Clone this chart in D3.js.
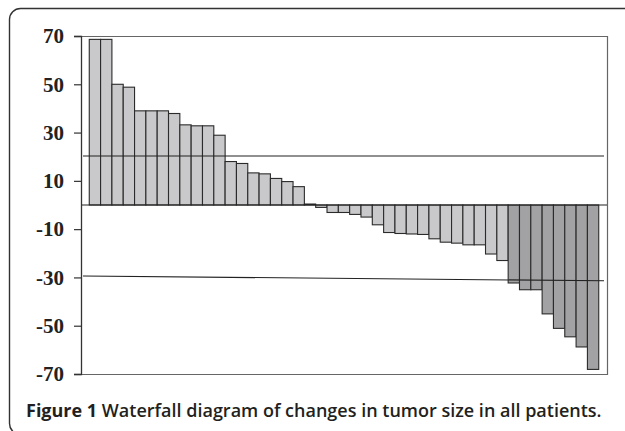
<!DOCTYPE html>
<html>
<head>
<meta charset="utf-8">
<script src="https://cdn.jsdelivr.net/npm/d3@7"></script>
<style>
  body { margin: 0; background: #fff; }
  svg { display: block; }
</style>
</head>
<body>
<div id="d3-container"></div>
<script>
/**
 * CONSTANTS AND DATA
 * */
const width = 625,
  height = 431,
  margin = { top: 36, bottom: 57, left: 81, right: 18 };

// percent change in tumor size per patient, sorted
const changes = [
  68.6, 68.6, 50, 48.8, 39, 39, 39, 37.9, 33.2, 32.8, 32.8, 28.9, 18, 17.2,
  13.3, 12.9, 11, 9.7, 7.6, 0.4, -1, -3.1, -3.1, -3.9, -5, -8.2, -11.4,
  -11.8, -12, -12.2, -14, -15.4, -15.8, -16.5, -16.5, -20.3, -23, -32.3,
  -35.1, -35.1, -45.1, -51.1, -54.6, -58.8, -68.1
];
const yTicks = [70, 50, 30, 10, -10, -30, -50, -70];
const upperLine = [20.3, 20.3];   // start / end value
const lowerLine = [-29.4, -31.4]; // start / end value
const responseCut = -30;
const caption = ["Figure 1", " Waterfall diagram of changes in tumor size in all patients."];

/**
 * DRAW
 * */
const svg = d3.select("#d3-container")
  .append("svg")
  .attr("width", width)
  .attr("height", height);

// outer frame (rounded, runs off the right/bottom)
svg.append("rect")
  .attr("x", 9.5)
  .attr("y", 8.5)
  .attr("width", 700)
  .attr("height", 426)
  .attr("rx", 11)
  .attr("fill", "none")
  .attr("stroke", "#333")
  .attr("stroke-width", 1.4);

const x0 = margin.left, x1 = width - margin.right;
const y0 = margin.top, y1 = height - margin.bottom;

const xScale = d3.scaleBand()
  .domain(d3.range(changes.length))
  .range([x0, x1])
  .paddingInner(0)
  .paddingOuter(0.73);

const yScale = d3.scaleLinear()
  .domain([-70, 70])
  .range([y1, y0]);

// plot box: top/right/bottom
svg.append("path")
  .attr("d", `M${x0},${y0 + 0.5}H${x1 + 0.5}V${y1 + 0.5}H${x0}`)
  .attr("fill", "none")
  .attr("stroke", "#666")
  .attr("stroke-width", 1.2);

// bars
svg.selectAll("rect.bar")
  .data(changes)
  .join("rect")
  .attr("class", "bar")
  .attr("x", (d, i) => xScale(i))
  .attr("width", xScale.bandwidth())
  .attr("y", d => yScale(Math.max(0, d)))
  .attr("height", d => Math.abs(yScale(d) - yScale(0)))
  .attr("fill", d => d <= responseCut ? "#a2a2a4" : "#c9c9cb")
  .attr("stroke", "#2b2b2b")
  .attr("stroke-width", 1.1);

// zero line
svg.append("line")
  .attr("x1", x0).attr("x2", x1)
  .attr("y1", yScale(0)).attr("y2", yScale(0))
  .attr("stroke", "#222")
  .attr("stroke-width", 1.2);

// reference lines
const refX = [x0 + 2, x1 - 3];
[upperLine, lowerLine].forEach(vals => {
  svg.append("line")
    .attr("x1", refX[0]).attr("x2", refX[1])
    .attr("y1", yScale(vals[0])).attr("y2", yScale(vals[1]))
    .attr("stroke", "#222")
    .attr("stroke-width", 1.1);
});

// y axis
const yAxis = d3.axisLeft(yScale)
  .tickValues(yTicks)
  .tickSize(7)
  .tickPadding(10)
  .tickFormat(d => String(d));

const gy = svg.append("g")
  .attr("transform", `translate(${x0},0)`)
  .call(yAxis);

gy.select(".domain").attr("stroke", "#333").attr("stroke-width", 1.3);
gy.selectAll(".tick line").attr("stroke", "#333").attr("stroke-width", 1.2);
gy.selectAll(".tick text")
  .attr("fill", "#222")
  .style("font-family", "'Liberation Serif', 'Times New Roman', serif")
  .style("font-weight", "bold")
  .style("font-size", "21px");

// caption
const cap = svg.append("text")
  .attr("x", 26)
  .attr("y", 417)
  .style("font-family", "'Open Sans', 'Noto Sans', sans-serif")
  .style("font-size", "18px")
  .attr("fill", "#231f20");
cap.append("tspan").style("font-weight", 700).text(caption[0]);
cap.append("tspan").style("font-weight", 600).text(caption[1]);
</script>
</body>
</html>
